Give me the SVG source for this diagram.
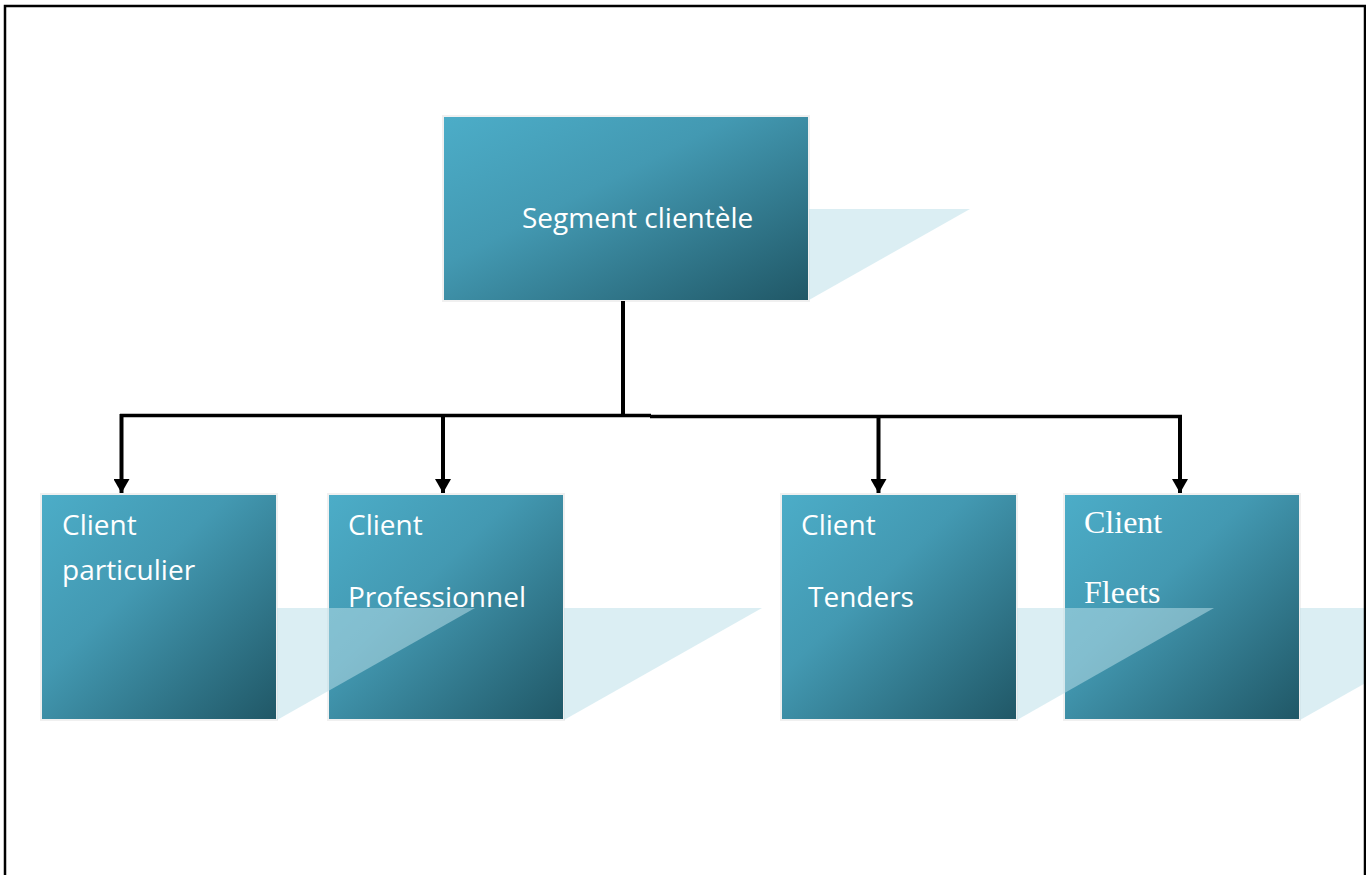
<svg xmlns="http://www.w3.org/2000/svg" width="1366" height="875" viewBox="0 0 1366 875">
  <defs>
    <linearGradient id="teal" x1="0" y1="0" x2="1" y2="1">
      <stop offset="0" stop-color="#4CADC8"/>
      <stop offset="0.4" stop-color="#4399B2"/>
      <stop offset="1" stop-color="#205766"/>
    </linearGradient>
    <marker id="arrow" viewBox="0 0 14 16" refX="14" refY="8" markerWidth="14" markerHeight="16" markerUnits="userSpaceOnUse" orient="auto">
      <path d="M0,0 L14,8 L0,16 Z" fill="#000"/>
    </marker>
    <style>
      .box { fill: url(#teal); stroke: #F0F0F0; stroke-width: 2; }
      .shade { fill: #BBDFE8; fill-opacity: 0.53; }
      .sans { font-family: "Open Sans", "Noto Sans", sans-serif; font-size: 28px; fill: #FFFFFF; }
      .serif { font-family: "Liberation Serif", "Times New Roman", serif; font-size: 32px; fill: #FFFFFF; }
      .link { fill: none; stroke: #000; stroke-width: 3.5; }
      .drop { fill: none; stroke: #000; stroke-width: 4; }
    </style>
  </defs>

  <rect width="1366" height="875" fill="#FFFFFF"/>

  <!-- top node -->
  <g id="segment-clientele">
    <rect class="box" x="443" y="116" width="366" height="185"/>
    <polygon class="shade" points="809,209 970,209 809,300"/>
    <text class="sans" x="522" y="228">Segment clientèle</text>
  </g>

  <!-- connectors -->
  <g id="connectors">
    <path class="drop" d="M623,301 V415.5"/>
    <path class="link" d="M120,415.5 H651"/>
    <path class="link" d="M650,416.5 H1182"/>
    <path class="drop" d="M121.5,414 V493" marker-end="url(#arrow)"/>
    <path class="drop" d="M443,414 V493" marker-end="url(#arrow)"/>
    <path class="drop" d="M878.5,415 V493" marker-end="url(#arrow)"/>
    <path class="drop" d="M1180,415 V493" marker-end="url(#arrow)"/>
  </g>

  <!-- child nodes, right to left so each reflection lies over its right-hand neighbour -->
  <g id="client-fleets">
    <rect class="box" x="1064" y="494" width="236" height="226"/>
    <polygon class="shade" points="1300,608 1498,608 1300,720"/>
    <text class="serif" x="1084" y="533">Client</text>
    <text class="serif" x="1084" y="603">Fleets</text>
  </g>

  <g id="client-tenders">
    <rect class="box" x="781" y="494" width="236" height="226"/>
    <polygon class="shade" points="1017,608 1214,608 1017,720"/>
    <text class="sans" x="801" y="535">Client</text>
    <text class="sans" x="808" y="607">Tenders</text>
  </g>

  <g id="client-professionnel">
    <rect class="box" x="328" y="494" width="236" height="226"/>
    <polygon class="shade" points="564,608 762,608 564,720"/>
    <text class="sans" x="348" y="535">Client</text>
    <text class="sans" x="348" y="607">Professionnel</text>
  </g>

  <g id="client-particulier">
    <rect class="box" x="41" y="494" width="236" height="226"/>
    <polygon class="shade" points="277,608 475,608 277,720"/>
    <text class="sans" x="62" y="535">Client</text>
    <text class="sans" x="62" y="580">particulier</text>
  </g>

  <!-- page frame -->
  <path d="M5,876 V6 H1365 V876" fill="none" stroke="#000" stroke-width="2.5"/>
</svg>
